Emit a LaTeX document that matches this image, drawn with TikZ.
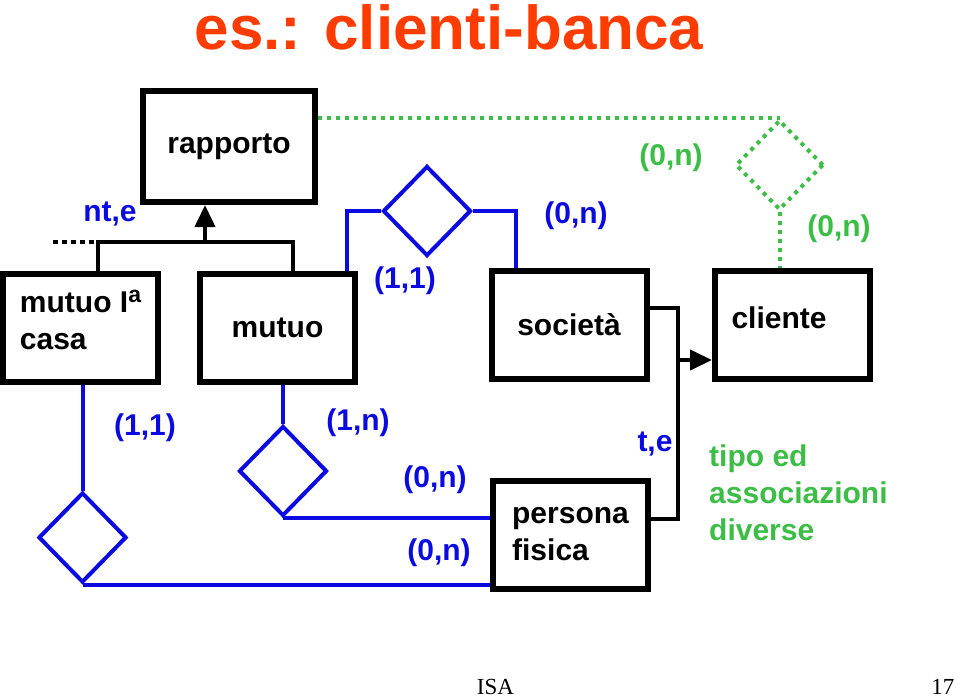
\documentclass[tikz,border=0pt]{standalone}
\usepackage{fontspec}
\setmainfont{Liberation Sans}
\newfontfamily\isafont{Liberation Serif}
\usetikzlibrary{shapes.geometric,arrows.meta}

\definecolor{blu}{RGB}{10,10,225}
\definecolor{verde}{RGB}{60,190,70}
\definecolor{titolo}{RGB}{255,60,0}
\newcommand{\txtgrande}{\bfseries\fontsize{30}{37}\selectfont}

\tikzset{
  entita/.style={draw,line width=6pt,minimum width=155pt,minimum height=108pt,
    inner sep=0pt,align=left,font=\txtgrande},
  relaz/.style={diamond,draw=blu,line width=4pt,minimum width=88pt,
    minimum height=90pt,inner sep=0pt},
  card/.style={text=blu,font=\txtgrande,inner sep=0pt},
  linea/.style={blu,line width=4pt},
  isa/.style={line width=4pt},
  verdepunt/.style={verde,line width=4pt,dash pattern=on 4pt off 5pt},
  punta/.style={-{Triangle[length=22pt,width=20pt]}}
}

\begin{document}
\begin{tikzpicture}[x=1pt,y=-1pt]
         \useasboundingbox (0,0) rectangle (960,699) ;
         \node[font=\bfseries\fontsize{62}{70}\selectfont,text=titolo,anchor=base]
            (titolo) at (449,49) {es.: clienti-banca} ;
         % entita
         \node[entita,minimum width=172pt,minimum height=111pt] (rapporto) at (229,146.5) {rapporto} ;
         \node[entita,text depth=16pt] (casa) at (80.5,328) {mutuo I\raisebox{10pt}{\fontsize{23}{23}\selectfont a}\\casa} ;
         \node[entita] (mutuo) at (277.5,327.5) {mutuo} ;
         \node[entita] (societa) at (569,325) {società} ;
         \node[entita,text depth=14pt,text width=122pt] (cliente) at (792.5,325) {cliente} ;
         \node[entita] (persona) at (570.5,534.5) {persona\\fisica} ;
         % relazioni
         \node[relaz] (r1) at (427,211) {} ;
         \node[relaz] (r2) at (283,471) {} ;
         \node[relaz] (r3) at (82.5,537.5) {} ;
         \node[relaz,draw=verde,dash pattern=on 4pt off 5pt] (r4) at (779.5,165) {} ;
         \draw[linea] (r1.west) -| ([xshift=-11pt]mutuo.north east) ;
         \draw[linea] (r1.east) -| ([xshift=27pt]societa.north west) ;
         \draw[linea] (r3.north |- casa.south) -- (r3.north) ;
         \draw[linea] (r3.south) -- (r3.south -| persona.west) ;
         \draw[linea] (r2.north |- mutuo.south) -- (r2.north) ;
         \draw[linea] (r2.south) -- (r2.south -| persona.west) ;
         \draw[verdepunt] (rapporto.east |- r4.north) -- (r4.north) ;
         \draw[verdepunt] (r4.south) -- (r4.south |- cliente.north) ;
         % generalizzazioni
         \coordinate (g1) at (205,242) ;
         \coordinate (nt) at (53,242) ;
         \draw[isa] ([xshift=17pt]casa.north) |- (g1) -| ([xshift=15pt]mutuo.north) ;
         \draw[isa,punta] (g1) -- (g1 |- rapporto.south) ;
         \draw[isa,dash pattern=on 5pt off 4pt] (nt) -- ([xshift=17pt]casa.north |- g1) ;
         \coordinate (g2) at (678,360) ;
         \draw[isa] ([yshift=17pt]societa.east) -| (g2) |- ([yshift=16pt]persona.east) ;
         \draw[isa,punta] (g2) -- (g2 -| cliente.west) ;
         % cardinalita
         \node[card] (c1) at (405,281) {(1,1)} ;
         \node[card] (c2) at (576,216) {(0,n)} ;
         \node[card,text=verde] (c3) at (671,158) {(0,n)} ;
         \node[card,text=verde] (c4) at (839,229) {(0,n)} ;
         \node[card] (c5) at (145,428) {(1,1)} ;
         \node[card] (c6) at (358,423) {(1,n)} ;
         \node[card] (c7) at (435,480) {(0,n)} ;
         \node[card] (c8) at (439,553) {(0,n)} ;
         \node[card] (nte) at (110,214) {nt,e} ;
         \node[card] (te) at (655,444) {t,e} ;
         \node[font=\txtgrande,text=verde,align=left,anchor=north west,inner sep=0pt]
            (nota) at (709,445) {tipo ed\\associazioni\\diverse} ;
         \node[font=\isafont\fontsize{23}{26}\selectfont,anchor=base] (sigla) at (495.5,694) {ISA} ;
         \node[font=\isafont\fontsize{23}{26}\selectfont,anchor=base east] (pag) at (958,694) {17} ;
      \end{tikzpicture}
\end{document}
